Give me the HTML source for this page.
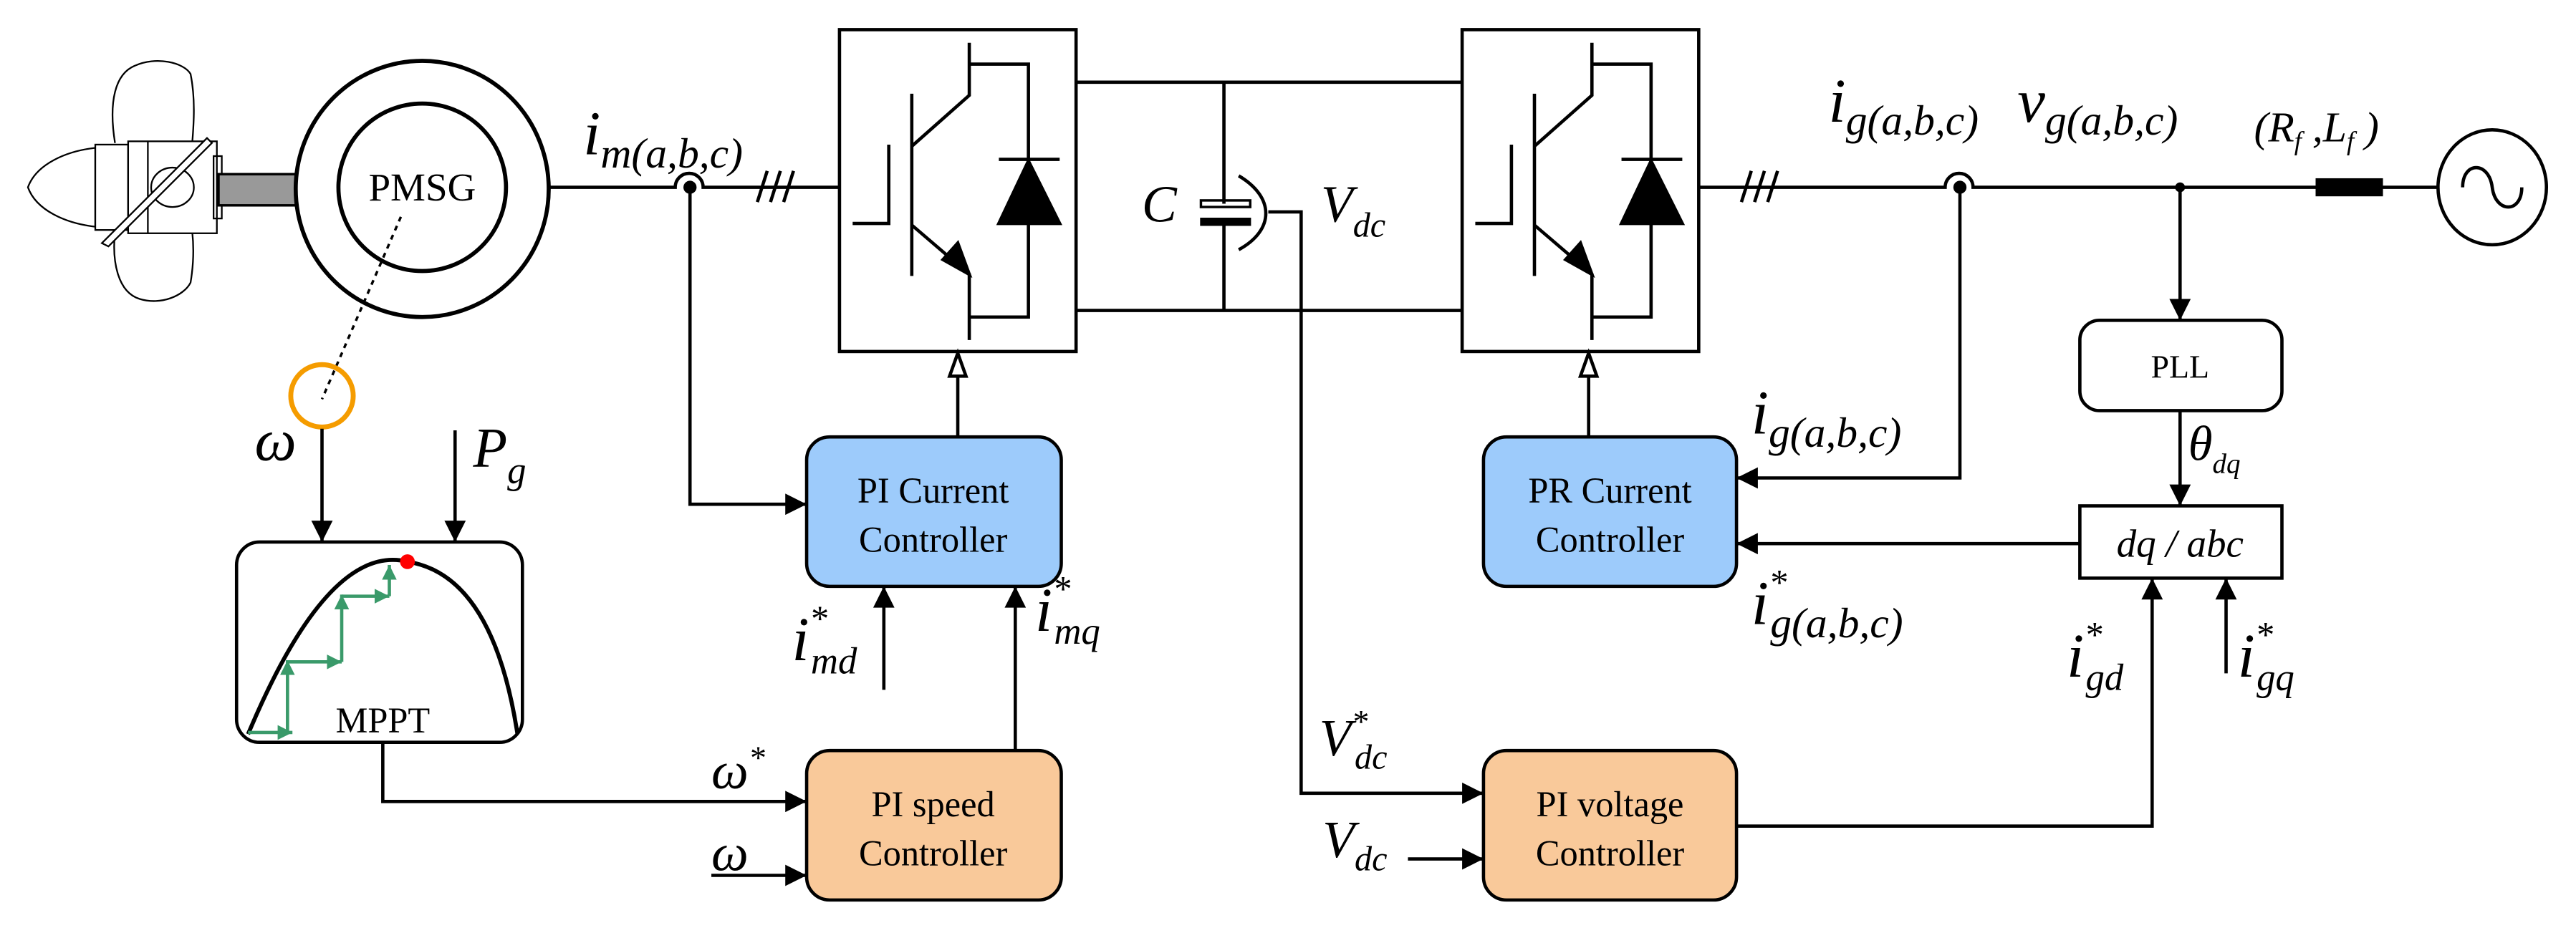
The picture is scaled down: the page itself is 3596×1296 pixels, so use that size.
<!DOCTYPE html>
<html><head><meta charset="utf-8"><style>
html,body{margin:0;padding:0;background:#fff;}
svg{display:block;font-family:"Liberation Serif","Times New Roman",Times,Tinos,"DejaVu Serif","Noto Serif CJK SC",serif;}
svg text, svg tspan{font-family:"Liberation Serif","Times New Roman",Times,Tinos,"DejaVu Serif","Noto Serif CJK SC",serif;}
.it{font-style:italic;}
</style></head><body>
<svg width="3596" height="1296" viewBox="0 0 1568 565" xmlns="http://www.w3.org/2000/svg">
<defs>
<marker id="ab" viewBox="0 0 10 10" refX="10" refY="5" markerWidth="15" markerHeight="13" markerUnits="userSpaceOnUse" orient="auto"><path d="M0,0 L10,5 L0,10 z" fill="#000"/></marker>
<marker id="g" viewBox="0 0 10 10" refX="10" refY="5" markerWidth="9" markerHeight="9" markerUnits="userSpaceOnUse" orient="auto"><path d="M0,0 L10,5 L0,10 z" fill="#3a9a6a"/></marker>
</defs>
<g fill="none" stroke="#000" stroke-width="2">
<!-- propeller -->
<g stroke-width="1">
<path d="M17,114 C22,100 40,92 58,90 L58,138 C40,136 22,128 17,114 z"/>
<rect x="58" y="88" width="20" height="52" fill="#fff"/>
<path d="M70,87 C66,62 70,45 82,40 C95,34 112,38 116,45 C119,60 118,75 117,87"/>
<path d="M70,141 C68,160 72,178 85,182 C98,186 112,180 116,172 C118,160 118,150 117,141"/>
<rect x="78" y="86" width="54" height="56" fill="#fff"/>
<line x1="90" y1="86" x2="90" y2="142"/>
<rect x="130" y="95" width="5" height="38"/>
<ellipse cx="105" cy="114" rx="13" ry="12"/>
<path d="M62,148 L126,84 L129,87 L66,150 z" fill="#fff"/>
</g>
<rect x="133" y="106" width="47" height="19" fill="#999" stroke-width="1.5"/>
<!-- PMSG -->
<ellipse cx="257" cy="115" rx="77" ry="78" stroke-width="2.5"/>
<ellipse cx="257" cy="114" rx="51" ry="51" stroke-width="2.5"/>
<line x1="244" y1="132" x2="196" y2="243" stroke-dasharray="3,3" stroke-width="1.5"/>
<ellipse cx="196" cy="241" rx="19" ry="19" stroke="#f59c00" stroke-width="3"/>
<!-- machine line -->
<path d="M334,114 L411,114 A6,6 0 0 1 428,114 L511,114"/>
<line x1="461" y1="123" x2="467" y2="104"/><line x1="469" y1="123" x2="475" y2="104"/><line x1="477" y1="123" x2="483" y2="104"/>
<!-- converters -->
<rect x="511" y="18" width="144" height="196"/>
<rect x="890" y="18" width="144" height="196"/>
<g id="ig">
<path d="M590,26 L590,58 L555,89 M555,57 L555,168 M541,88 L541,136 L519,136 M555,137 L590,167 L590,207 M590,39 L626,39 L626,193 L590,193 M608,97 L645,97"/>
<path d="M626,98 L608,136 L645,136 z" fill="#000"/>
<path d="M590,167 L574,158 L583,148 z" fill="#000"/>
</g>
<use href="#ig" x="379"/>
<!-- DC link -->
<line x1="655" y1="50" x2="890" y2="50"/><line x1="655" y1="189" x2="890" y2="189"/>
<line x1="745" y1="50" x2="745" y2="124"/><line x1="745" y1="136" x2="745" y2="189"/>
<rect x="731" y="122" width="30" height="4" stroke-width="1.5"/>
<rect x="731" y="133" width="30" height="4" fill="#000" stroke-width="1"/>
<path d="M754,107 C776,120 776,140 754,152"/>
<path d="M772,129 L792,129 L792,483 L903,483" marker-end="url(#ab)"/>
<line x1="857" y1="523" x2="903" y2="523" marker-end="url(#ab)"/>
<!-- grid side -->
<path d="M1034,114 L1184,114 A6,6 0 0 1 1201,114 L1484,114"/>
<line x1="1060" y1="123" x2="1066" y2="104"/><line x1="1068" y1="123" x2="1074" y2="104"/><line x1="1076" y1="123" x2="1082" y2="104"/>
<rect x="1410" y="109" width="40" height="10" fill="#000" stroke-width="1"/>
<ellipse cx="1517" cy="114" rx="33" ry="35"/>
<path d="M1499,114 C1499,98 1515,98 1517,114 C1519,130 1535,130 1535,114"/>
<!-- PLL / dq -->
<rect x="1266" y="195" width="123" height="55" rx="12"/>
<rect x="1266" y="308" width="123" height="44"/>
<line x1="1327" y1="114" x2="1327" y2="195" marker-end="url(#ab)"/>
<line x1="1327" y1="250" x2="1327" y2="308" marker-end="url(#ab)"/>
<path d="M1193,114 L1193,291 L1057,291" marker-end="url(#ab)"/>
<line x1="1266" y1="331" x2="1057" y2="331" marker-end="url(#ab)"/>
<path d="M1057,503 L1310,503 L1310,352" marker-end="url(#ab)"/>
<line x1="1355" y1="410" x2="1355" y2="352" marker-end="url(#ab)"/>
<!-- controllers -->
<rect x="491" y="266" width="155" height="91" rx="14" fill="#9dcbfb"/>
<rect x="903" y="266" width="154" height="91" rx="14" fill="#9dcbfb"/>
<rect x="491" y="457" width="155" height="91" rx="14" fill="#f9c99a"/>
<rect x="903" y="457" width="154" height="91" rx="14" fill="#f9c99a"/>
<line x1="583" y1="266" x2="583" y2="229"/><path d="M583,215 L578,229 L588,229 z" fill="#fff"/>
<line x1="967" y1="266" x2="967" y2="229"/><path d="M967,215 L962,229 L972,229 z" fill="#fff"/>
<path d="M420,114 L420,307 L491,307" marker-end="url(#ab)"/>
<line x1="538" y1="420" x2="538" y2="357" marker-end="url(#ab)"/>
<line x1="618" y1="457" x2="618" y2="357" marker-end="url(#ab)"/>
<line x1="433" y1="533" x2="491" y2="533" marker-end="url(#ab)"/>
<path d="M233,452 L233,488 L491,488" marker-end="url(#ab)"/>
<!-- MPPT -->
<rect x="144" y="330" width="174" height="122" rx="14"/>
<line x1="196" y1="261" x2="196" y2="330" marker-end="url(#ab)"/>
<line x1="277" y1="262" x2="277" y2="330" marker-end="url(#ab)"/>
<path d="M151,447 Q200,330 248,342 Q300,350 315,447" stroke-width="2.5"/>
<g stroke="#3a9a6a" stroke-width="2">
<line x1="151" y1="446" x2="178" y2="446" marker-end="url(#g)"/>
<line x1="175" y1="446" x2="175" y2="402" marker-end="url(#g)"/>
<line x1="175" y1="403" x2="208" y2="403" marker-end="url(#g)"/>
<line x1="208" y1="403" x2="208" y2="362" marker-end="url(#g)"/>
<line x1="208" y1="363" x2="237" y2="363" marker-end="url(#g)"/>
<line x1="237" y1="363" x2="237" y2="344" marker-end="url(#g)"/>
</g>
</g>
<circle cx="248" cy="342" r="4.5" fill="#f00"/>
<circle cx="420" cy="114" r="4" fill="#000"/>
<circle cx="1193" cy="114" r="4" fill="#000"/>
<circle cx="1327" cy="114" r="3" fill="#000"/>
<!-- texts -->
<g font-size="22" text-anchor="middle">
<text x="257" y="122" font-size="24">PMSG</text>
<text x="568" y="306">PI Current</text><text x="568" y="336">Controller</text>
<text x="980" y="306">PR Current</text><text x="980" y="336">Controller</text>
<text x="568" y="497">PI speed</text><text x="568" y="527">Controller</text>
<text x="980" y="497">PI voltage</text><text x="980" y="527">Controller</text>
<text x="233" y="446">MPPT</text>
<text x="1327" y="230" font-size="20">PLL</text>
<text x="1327" y="339" class="it" font-size="24">dq / abc</text>
</g>
<g class="it">
<text x="355" y="94" font-size="38" class="it">i<tspan font-size="26" dy="8">m(a,b,c)</tspan></text>
<text x="1113" y="74" font-size="38" class="it">i<tspan font-size="26" dy="8">g(a,b,c)</tspan></text>
<text x="1228" y="74" font-size="38" class="it">v<tspan font-size="26" dy="8">g(a,b,c)</tspan></text>
<text x="1372" y="86" font-size="26" class="it">(R<tspan font-size="16" dy="5">f</tspan><tspan dy="-5"> ,L</tspan><tspan font-size="16" dy="5">f</tspan><tspan dy="-5"> )</tspan></text>
<text x="695" y="135" font-size="32" class="it">C</text>
<text x="804" y="135" font-size="32" class="it">V<tspan font-size="21" dy="9">dc</tspan></text>
<text x="155" y="280" font-size="36" class="it">ω</text>
<text x="288" y="284" font-size="34" class="it">P<tspan font-size="23" dy="10">g</tspan></text>
<text x="433" y="480" font-size="32" class="it">ω<tspan font-size="20" dy="-12">*</tspan></text>
<text x="433" y="530" font-size="32" class="it">ω</text>
<text x="482" y="402" font-size="38" class="it">i<tspan font-size="22" dy="-18">*</tspan><tspan font-size="23" dx="-10" dy="26">md</tspan></text>
<text x="630" y="384" font-size="38" class="it">i<tspan font-size="22" dy="-18">*</tspan><tspan font-size="23" dx="-10" dy="26">mq</tspan></text>
<text x="803" y="460" font-size="32" class="it">V<tspan font-size="20" dy="-14">*</tspan><tspan font-size="21" dx="-8" dy="22">dc</tspan></text>
<text x="805" y="522" font-size="32" class="it">V<tspan font-size="21" dy="8">dc</tspan></text>
<text x="1066" y="264" font-size="38" class="it">i<tspan font-size="26" dy="8">g(a,b,c)</tspan></text>
<text x="1066" y="380" font-size="38" class="it">i<tspan font-size="22" dy="-18">*</tspan><tspan font-size="26" dx="-10" dy="26">g(a,b,c)</tspan></text>
<text x="1332" y="280" font-size="30" class="it">θ<tspan font-size="17" dy="8">dq</tspan></text>
<text x="1258" y="412" font-size="38" class="it">i<tspan font-size="22" dy="-18">*</tspan><tspan font-size="23" dx="-10" dy="26">gd</tspan></text>
<text x="1362" y="412" font-size="38" class="it">i<tspan font-size="22" dy="-18">*</tspan><tspan font-size="23" dx="-10" dy="26">gq</tspan></text>
</g>
</svg>
</body></html>
